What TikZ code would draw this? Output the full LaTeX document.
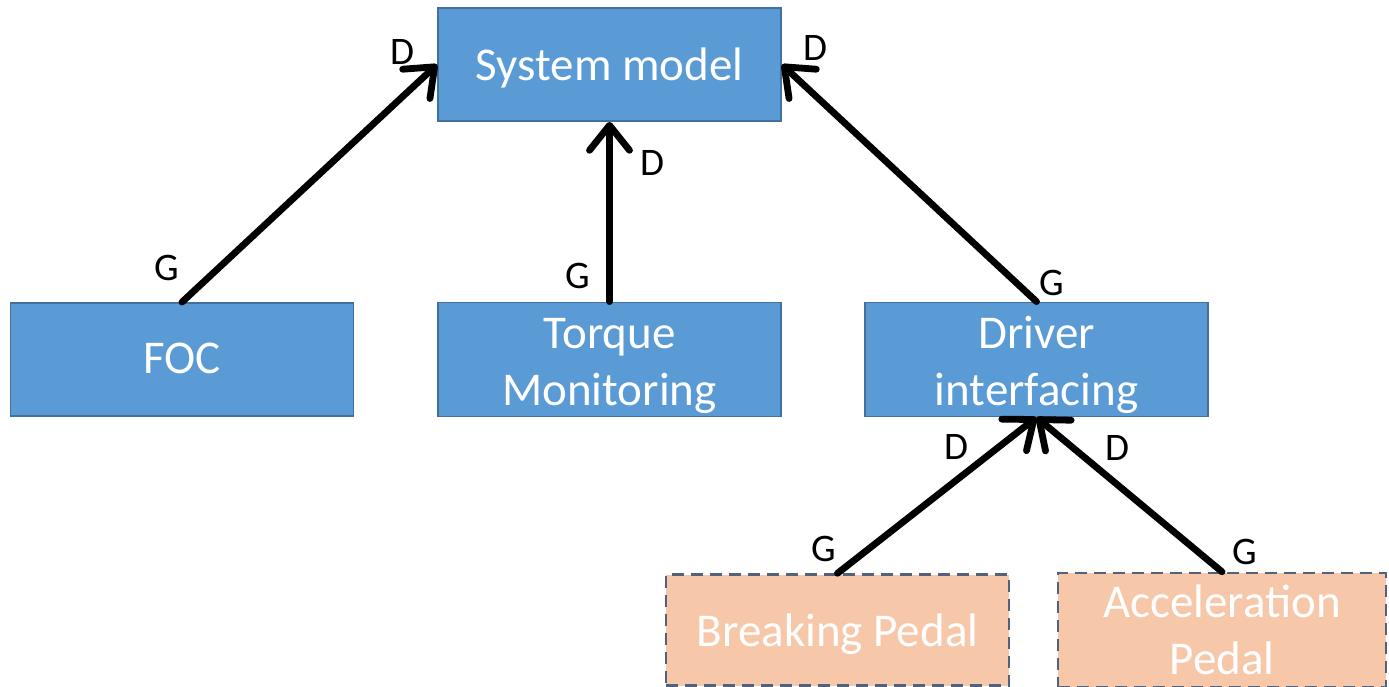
\documentclass[tikz,border=0pt]{standalone}
\usepackage{fontspec}
\setmainfont{Carlito}
\usetikzlibrary{arrows.meta}
\definecolor{boxblue}{HTML}{5B9BD5}
\definecolor{boxedge}{HTML}{41719C}
\definecolor{peach}{HTML}{F6C8A9}
\definecolor{dashedge}{HTML}{51627D}
\newcommand{\boxtxt}[2][5pt]{\raisebox{-#1}[\height][\depth]{\begin{tabular}{@{}c@{}}#2\end{tabular}}}
\tikzset{
  bluebox/.style={draw=boxedge, line width=1.8pt, fill=boxblue, text=white,
    minimum width=343pt, minimum height=113pt, inner sep=0pt, align=center,
    font=\fontsize{47}{57}\selectfont},
  pedalbox/.style={draw=dashedge, dash pattern=on 12pt off 7pt, line width=2.4pt, fill=peach, text=white,
    minimum width=343pt, minimum height=111pt, inner sep=0pt, align=center,
    font=\fontsize{47}{57}\selectfont},
  conn/.style={line width=6.8pt, line cap=round, line join=round,
    -{Straight Barb[length=25pt, width=40pt, line width=6.8pt, round]}},
  lbl/.style={font=\fontsize{39}{44}\selectfont, inner sep=0pt, text=black}
}
\begin{document}
\begin{tikzpicture}[x=1pt, y=-1pt]
\useasboundingbox (0,0) rectangle (1389,687);
\node[bluebox] (sys) at (609.5,64.5) {\boxtxt{System model}};
\node[bluebox] (foc) at (182,359.5) {\boxtxt[3pt]{FOC}};
\node[bluebox] (torque) at (609.5,359.5) {\boxtxt[6pt]{Torque\\Monitoring}};
\node[bluebox] (drv) at (1036.5,359.5) {\boxtxt[6pt]{Driver\\interfacing}};
\node[pedalbox] (brk) at (837.5,630) {\boxtxt{Breaking Pedal}};
\node[pedalbox, minimum width=328pt] (acc) at (1222,630) {\boxtxt[5pt]{Acceleration\\Pedal}};

\draw[conn] (foc.north) -- (sys.west);
\draw[conn] (torque.north) -- (sys.south);
\draw[conn] (drv.north) -- (sys.east);
\draw[conn] (brk.north) -- (drv.south);
\draw[conn] (acc.north) -- (drv.south);

\node[lbl] (d1) at (402,52) {D};
\node[lbl] (d2) at (815,48) {D};
\node[lbl] (d3) at (652,163) {D};
\node[lbl] (g1) at (167,268) {G};
\node[lbl] (g2) at (578,276) {G};
\node[lbl] (g3) at (1052,283) {G};
\node[lbl] (d4) at (956,447) {D};
\node[lbl] (d5) at (1117,448) {D};
\node[lbl] (g4) at (824,549) {G};
\node[lbl] (g5) at (1245,552) {G};
\end{tikzpicture}
\end{document}
